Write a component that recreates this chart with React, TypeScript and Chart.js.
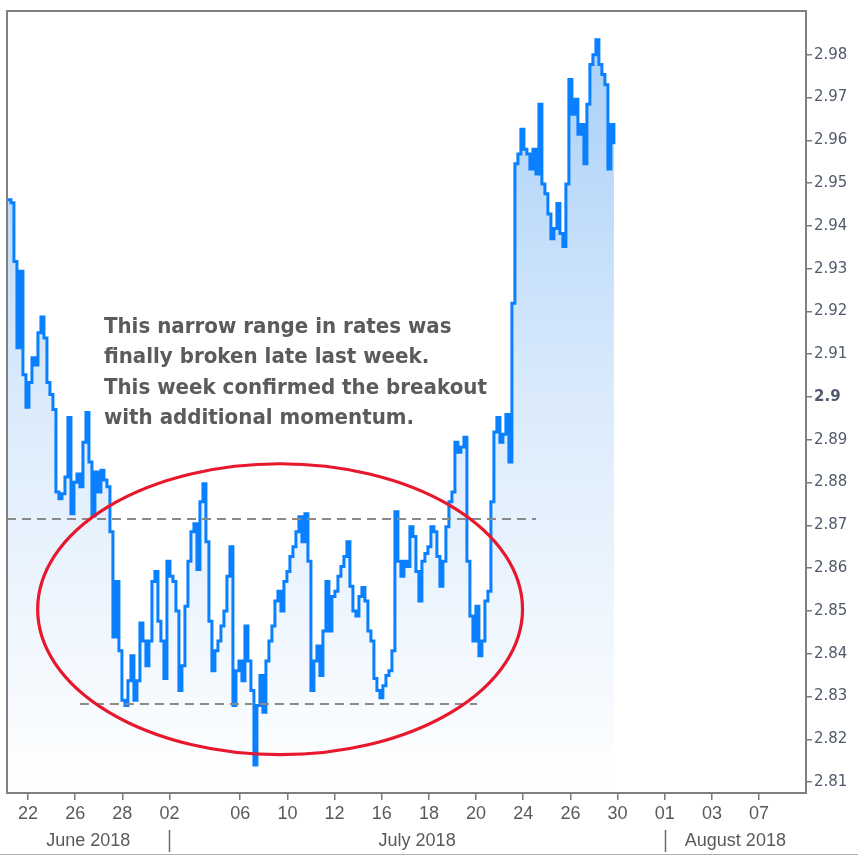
import React, { useEffect, useRef } from "react";
import { Chart, registerables } from "chart.js";

Chart.register(...registerables);

// ---- data: 10-year yield, sampled on a regular intraday grid (trading-day units) ----
const sampleStartDay = -0.85; // trading days from 22 June 2018
const sampleStepDay = 0.1272;

const yieldsLateJune = [
  2.9461, 2.9454, 2.9317, 2.9115, 2.9294, 2.9052, 2.8976, 2.9034, 2.9092, 2.9075,
  2.915, 2.9187, 2.9138, 2.9034, 2.9006, 2.8971, 2.8778, 2.8762, 2.8774, 2.8813,
  2.8952, 2.8727, 2.8801, 2.882, 2.879, 2.8894, 2.8964, 2.8848, 2.8722, 2.8825,
  2.8778, 2.8829, 2.8806, 2.879, 2.8685, 2.8439, 2.8569, 2.8407, 2.8291, 2.8279,
];
const yieldsEarlyJuly = [
  2.8337, 2.8395, 2.8291, 2.8337, 2.8472, 2.843, 2.8372, 2.843, 2.8569, 2.8592,
  2.8476, 2.843, 2.8342, 2.8616, 2.8581, 2.8569, 2.85, 2.8314, 2.8372, 2.8511,
  2.8616, 2.8685, 2.8704, 2.8597, 2.8755, 2.8797, 2.8662, 2.8476, 2.836, 2.8407,
  2.843, 2.8465, 2.85, 2.8581, 2.865, 2.8279, 2.836, 2.8383, 2.8337,
];
const yieldsMidJuly = [
  2.8465, 2.8383, 2.8314, 2.814, 2.8279, 2.8349, 2.8263, 2.8383, 2.843, 2.8465,
  2.8523, 2.8546, 2.85, 2.8569, 2.8592, 2.8627, 2.865, 2.8685, 2.872, 2.8662,
  2.8727, 2.8616, 2.8314, 2.8383, 2.8418, 2.8349, 2.8453, 2.8569, 2.8453, 2.8534,
  2.8546, 2.8581, 2.8604, 2.8627, 2.8662, 2.8558, 2.85, 2.8488, 2.8534, 2.8555,
];
const yieldsJuly16to20 = [
  2.8523, 2.8453, 2.843, 2.8342, 2.8314, 2.8297, 2.8325, 2.8349, 2.836, 2.8407,
  2.8732, 2.8616, 2.8581, 2.8616, 2.8604, 2.8697, 2.8674, 2.8592, 2.8523, 2.8616,
  2.8634, 2.865, 2.8697, 2.8685, 2.8627, 2.8558, 2.8616, 2.8697, 2.8755, 2.8778,
  2.8894, 2.8871, 2.8883, 2.8906, 2.8616, 2.8488, 2.843, 2.8511, 2.8395, 2.843,
];
const yieldsJuly20to27 = [
  2.8523, 2.8546, 2.8755, 2.8918, 2.8952, 2.8894, 2.8913, 2.8959, 2.8848, 2.9219,
  2.9545, 2.9568, 2.9626, 2.9579, 2.9568, 2.9533, 2.9579, 2.9521, 2.9684, 2.9498,
  2.9475, 2.9428, 2.937, 2.9394, 2.9452, 2.9382, 2.9352, 2.9498, 2.9742, 2.9661,
  2.9696, 2.9614, 2.9637, 2.9545, 2.9684, 2.9777, 2.98, 2.9835, 2.9777, 2.9754,
  2.973, 2.9533, 2.9637, 2.9591,
];

// ---- axes ----
const xMinDay = -0.89;
const xMaxDay = 32.99;
const xTickDays = [0, 2, 4, 6, 9, 11, 13, 15, 17, 19, 21, 23, 25, 27, 29, 31];
const xTickLabels = ["22", "26", "28", "02", "06", "10", "12", "16", "18", "20", "24", "26", "30", "01", "03", "07"];
const monthNames = ["June 2018", "July 2018", "August 2018"];
const monthStartDays = [6, 27]; // first trading day of July and August

const yMin = 2.80745;
const yMax = 2.99022;
const yTickValues = [2.81, 2.82, 2.83, 2.84, 2.85, 2.86, 2.87, 2.88, 2.89, 2.9, 2.91, 2.92, 2.93, 2.94, 2.95, 2.96, 2.97, 2.98];
const yTickLabels = ["2.81", "2.82", "2.83", "2.84", "2.85", "2.86", "2.87", "2.88", "2.89", "2.9", "2.91", "2.92", "2.93", "2.94", "2.95", "2.96", "2.97", "2.98"];
const boldTick = 2.9;

// ---- annotations ----
const resistanceLine = { value: 2.8716, fromDay: -0.89, toDay: 21.54 };
const supportLine = { value: 2.8283, fromDay: 2.2, toDay: 19.04 };
const rangeEllipse = { centerDay: 10.69, centerValue: 2.8504, halfDays: 10.28, halfValue: 0.034 };
const noteLines = [
  "This narrow range in rates was",
  "finally broken late last week.",
  "This week confirmed the breakout",
  "with additional momentum.",
];
const noteAnchor = { day: 3.22, value: 2.9164 };

const labelFont = '"Liberation Sans", Arial, sans-serif';
const axisFont = '"DejaVu Sans", "Liberation Sans", sans-serif';
const noteFont = '"DejaVu Sans", "Liberation Sans", sans-serif';

const allYields = [...yieldsLateJune, ...yieldsEarlyJuly, ...yieldsMidJuly, ...yieldsJuly16to20, ...yieldsJuly20to27];

const overlayPlugin = {
  id: "overlay",
  afterDatasetsDraw(chart: any) {
    const { ctx, scales, chartArea } = chart;
    const x = scales.x, y = scales.y;
    ctx.save();
    // dashed range lines
    ctx.strokeStyle = "#8a8a8a";
    ctx.lineWidth = 2;
    ctx.setLineDash([9, 6]);
    for (const l of [resistanceLine, supportLine]) {
      const py = Math.round(y.getPixelForValue(l.value));
      ctx.beginPath();
      ctx.moveTo(x.getPixelForValue(l.fromDay), py);
      ctx.lineTo(x.getPixelForValue(l.toDay), py);
      ctx.stroke();
    }
    ctx.setLineDash([]);

    // ellipse
    const cx = x.getPixelForValue(rangeEllipse.centerDay);
    const cy = y.getPixelForValue(rangeEllipse.centerValue);
    const rx = x.getPixelForValue(rangeEllipse.centerDay + rangeEllipse.halfDays) - cx;
    const ry = cy - y.getPixelForValue(rangeEllipse.centerValue + rangeEllipse.halfValue);
    ctx.strokeStyle = "#e8172c";
    ctx.lineWidth = 3.2;
    ctx.beginPath();
    ctx.ellipse(cx, cy, rx, ry, 0, 0, Math.PI * 2);
    ctx.stroke();

    // note text, horizontally fitted so the widest line spans 383px
    const size = 22;
    ctx.font = `bold ${size}px ${noteFont}`;
    const widest = Math.max(...noteLines.map((t) => ctx.measureText(t).width));
    const sx = Math.min(1, 383 / widest);
    ctx.fillStyle = "#5b5b5b";
    ctx.textBaseline = "middle";
    ctx.textAlign = "left";
    const tx = x.getPixelForValue(noteAnchor.day);
    const ty = y.getPixelForValue(noteAnchor.value);
    ctx.save();
    ctx.translate(tx, ty);
    ctx.scale(sx, 1);
    noteLines.forEach((t, i) => ctx.fillText(t, 0, i * 30.5));
    ctx.restore();

    // frame
    ctx.strokeStyle = "#808080";
    ctx.lineWidth = 2;
    ctx.strokeRect(chartArea.left, chartArea.top, chartArea.right - chartArea.left, chartArea.bottom - chartArea.top);
    ctx.restore();
  },
  afterDraw(chart: any) {
    const { ctx, scales, chartArea } = chart;
    const x = scales.x;
    ctx.save();
    const bounds = [chartArea.left, ...monthStartDays.map((d) => x.getPixelForValue(d)), chartArea.right];
    ctx.strokeStyle = "#6a6a6a";
    ctx.lineWidth = 1.5;
    for (const d of monthStartDays) {
      const px = Math.round(x.getPixelForValue(d)) + 0.5;
      ctx.beginPath();
      ctx.moveTo(px, 830);
      ctx.lineTo(px, 852);
      ctx.stroke();
    }
    ctx.font = `18px ${labelFont}`;
    ctx.fillStyle = "#5a5a5a";
    ctx.textAlign = "center";
    ctx.textBaseline = "middle";
    monthNames.forEach((m, i) => ctx.fillText(m, (bounds[i] + bounds[i + 1]) / 2, 841));
    // bottom border of the picture
    ctx.strokeStyle = "#b0b0b0";
    ctx.lineWidth = 1;
    ctx.beginPath();
    ctx.moveTo(0, 854.5);
    ctx.lineTo(858, 854.5);
    ctx.stroke();
    ctx.restore();
  },
};

export default function App() {
  const canvasRef = useRef<HTMLCanvasElement | null>(null);

  useEffect(() => {
    const canvas = canvasRef.current;
    if (!canvas) return;
    const points = allYields.map((v, i) => ({ x: sampleStartDay + i * sampleStepDay, y: v }));
    const chart = new Chart(canvas, {
      type: "line",
      data: {
        datasets: [
          {
            data: points,
            borderColor: "#0a80ff",
            borderWidth: 3,
            pointRadius: 0,
            stepped: true,
            fill: "start",
            backgroundColor: (c: any) => {
              const area = c.chart.chartArea;
              if (!area) return "rgba(170,208,248,0.6)";
              const g = c.chart.ctx.createLinearGradient(0, area.top, 0, area.bottom);
              g.addColorStop(0, "#a5cdf8");
              g.addColorStop(0.5, "#dbebfc");
              g.addColorStop(1, "#ffffff");
              return g;
            },
          },
        ],
      },
      options: {
        responsive: false,
        animation: false,
        layout: { padding: { left: 7, top: 6, right: 0, bottom: 0 } },
        plugins: { legend: { display: false }, tooltip: { enabled: false } },
        scales: {
          x: {
            type: "linear",
            min: xMinDay,
            max: xMaxDay,
            border: { display: false },
            grid: { drawOnChartArea: false, drawTicks: true, tickLength: 7, color: "#7a7a7a", lineWidth: 1.5 },
            afterBuildTicks: (s: any) => {
              s.ticks = xTickDays.map((v) => ({ value: v }));
            },
            afterFit: (s: any) => {
              s.height = 63;
            },
            ticks: {
              autoSkip: false,
              maxRotation: 0,
              padding: 3,
              color: "#5a5a5a",
              font: { family: labelFont, size: 18 },
              callback: (_v: any, i: number) => xTickLabels[i],
            },
          },
          y: {
            position: "right",
            min: yMin,
            max: yMax,
            border: { display: false },
            grid: { drawOnChartArea: false, drawTicks: true, tickLength: 6, color: "#7a7a7a", lineWidth: 1.5 },
            afterBuildTicks: (s: any) => {
              s.ticks = yTickValues.map((v) => ({ value: v }));
            },
            afterFit: (s: any) => {
              s.width = 52;
            },
            ticks: {
              autoSkip: false,
              padding: 2,
              color: "#505a6a",
              font: (c: any) => ({
                family: axisFont,
                size: 15,
                weight: c.tick && c.tick.value === boldTick ? "bold" : "normal",
              }),
              callback: (_v: any, i: number) => yTickLabels[i],
            },
          },
        },
      },
      plugins: [overlayPlugin],
    });
    return () => chart.destroy();
  }, []);

  return (
    <div style={{ position: "absolute", left: 0, top: 0, width: 858, height: 856, background: "#ffffff" }}>
      <canvas ref={canvasRef} width={858} height={856} style={{ display: "block" }} />
    </div>
  );
}
